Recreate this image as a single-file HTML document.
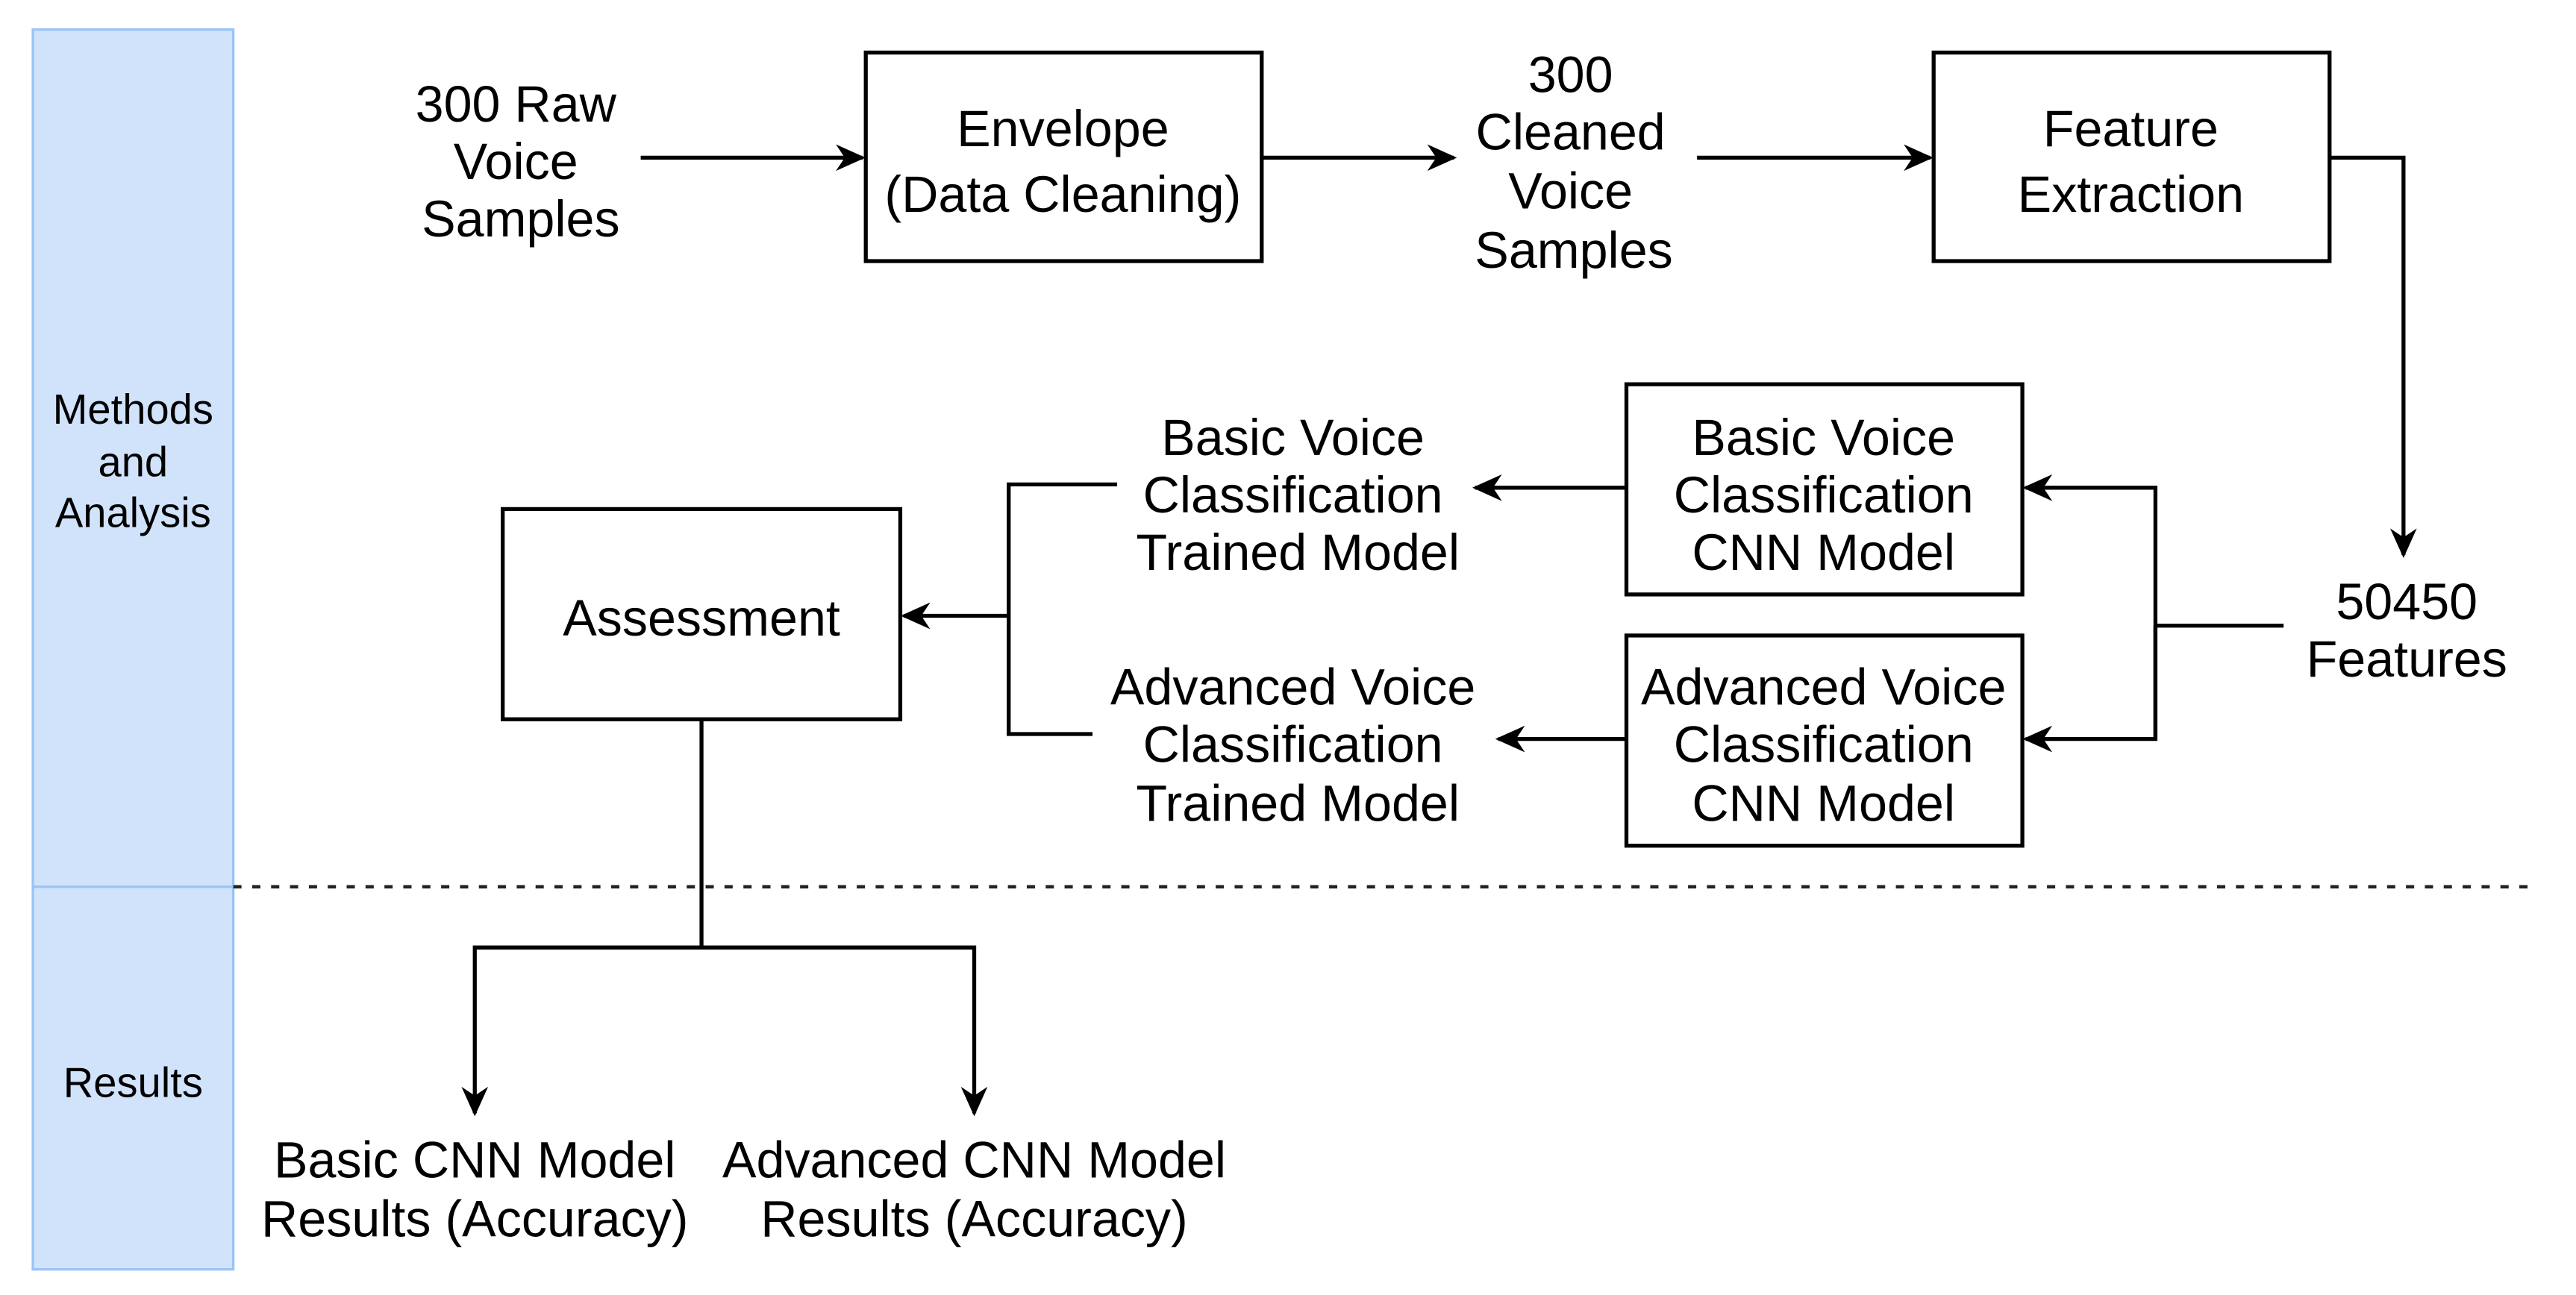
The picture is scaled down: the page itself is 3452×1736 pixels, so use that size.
<!DOCTYPE html>
<html><head><meta charset="utf-8"><style>
html,body{margin:0;padding:0;background:#fff;}
svg{display:block;}
text{font-family:"Liberation Sans",Arial,Helvetica,sans-serif;fill:#000;text-anchor:middle;}
</style></head><body>
<svg width="3452" height="1736" viewBox="0 0 1568 788.6" preserveAspectRatio="none" xmlns="http://www.w3.org/2000/svg">
<defs>
<marker id="b" viewBox="0 0 10 10" refX="9" refY="5" markerWidth="18" markerHeight="18" markerUnits="userSpaceOnUse" orient="auto">
<path d="M0,0.5 L10,5 L0,9.5 L3,5 Z" fill="#000"/>
</marker>
</defs>
<rect x="20" y="18" width="122" height="755" fill="#d1e3fb" stroke="#99c4f6" stroke-width="1.5"/>
<line x1="20" y1="540" x2="142" y2="540" stroke="#99c4f6" stroke-width="1.5"/>
<line x1="142" y1="540" x2="1545" y2="540" stroke="#222" stroke-width="2" stroke-dasharray="5,6.5"/>
<g font-size="25.5">
<text x="81" y="258">Methods</text>
<text x="81" y="290">and</text>
<text x="81" y="321">Analysis</text>
<text x="81" y="668">Results</text>
</g>
<g fill="none" stroke="#000" stroke-width="2.4">
<rect x="527" y="32" width="241" height="127"/>
<rect x="1177" y="32" width="241" height="127"/>
<rect x="990" y="234" width="241" height="128"/>
<rect x="990" y="387" width="241" height="128"/>
<rect x="306" y="310" width="242" height="128"/>
<line x1="390" y1="96" x2="525" y2="96" marker-end="url(#b)"/>
<line x1="768" y1="96" x2="885" y2="96" marker-end="url(#b)"/>
<line x1="1033" y1="96" x2="1175" y2="96" marker-end="url(#b)"/>
<polyline points="1418,96 1463,96 1463,338" marker-end="url(#b)"/>
<polyline points="1390,381 1312,381"/>
<polyline points="1312,450 1312,297 1233,297" marker-end="url(#b)"/>
<polyline points="1312,381 1312,450 1233,450" marker-end="url(#b)"/>
<line x1="990" y1="297" x2="898" y2="297" marker-end="url(#b)"/>
<line x1="990" y1="450" x2="912" y2="450" marker-end="url(#b)"/>
<polyline points="680,295 614,295 614,447 665,447"/>
<line x1="614" y1="375" x2="550" y2="375" marker-end="url(#b)"/>
<polyline points="427,438 427,577"/>
<polyline points="427,577 289,577 289,678" marker-end="url(#b)"/>
<polyline points="427,577 593,577 593,678" marker-end="url(#b)"/>
</g>
<g font-size="31">
<text x="314" y="74">300 Raw</text>
<text x="314" y="109">Voice</text>
<text x="317" y="144">Samples</text>
<text x="647" y="89">Envelope</text>
<text x="647" y="129">(Data Cleaning)</text>
<text x="956" y="56">300</text>
<text x="956" y="91">Cleaned</text>
<text x="956" y="127">Voice</text>
<text x="958" y="163">Samples</text>
<text x="1297" y="89">Feature</text>
<text x="1297" y="129">Extraction</text>
<text x="1465" y="377">50450</text>
<text x="1465" y="412">Features</text>
<text x="1110" y="277">Basic Voice</text>
<text x="1110" y="312">Classification</text>
<text x="1110" y="347">CNN Model</text>
<text x="1110" y="429">Advanced Voice</text>
<text x="1110" y="464">Classification</text>
<text x="1110" y="500">CNN Model</text>
<text x="787" y="277">Basic Voice</text>
<text x="787" y="312">Classification</text>
<text x="790" y="347">Trained Model</text>
<text x="787" y="429">Advanced Voice</text>
<text x="787" y="464">Classification</text>
<text x="790" y="500">Trained Model</text>
<text x="427" y="387">Assessment</text>
<text x="289" y="717">Basic CNN Model</text>
<text x="289" y="753">Results (Accuracy)</text>
<text x="593" y="717">Advanced CNN Model</text>
<text x="593" y="753">Results (Accuracy)</text>
</g>
</svg>
</body></html>
